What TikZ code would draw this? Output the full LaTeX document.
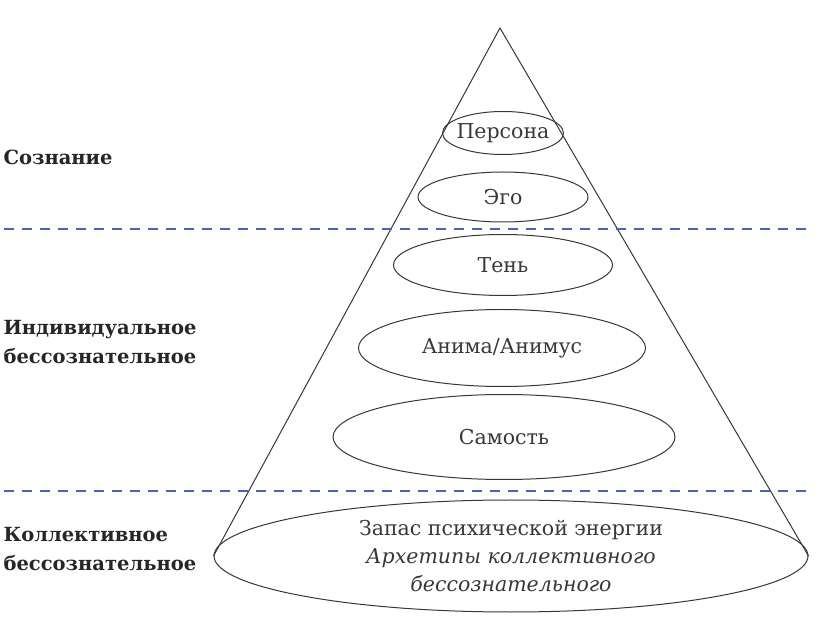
\documentclass[tikz,border=0pt]{standalone}
\usepackage{fontspec}
\setmainfont{DejaVu Serif}
\usetikzlibrary{shapes.geometric}
\definecolor{dashblue}{RGB}{75,100,185}
\definecolor{inkgray}{RGB}{55,55,55}
\tikzset{
  layer/.style={draw=inkgray, line width=1pt, ellipse, inner sep=0pt, text=inkgray, font=\fontsize{20.5}{28}\selectfont},
  layertext/.style={inner sep=0pt, text=inkgray, font=\fontsize{20.5}{28}\selectfont},
  side/.style={anchor=west, align=left, font=\fontsize{19.5}{29}\selectfont\bfseries, text=black!85},
  sep/.style={draw=dashblue, line width=2pt, dash pattern=on 10pt off 8pt},
  cone/.style={draw=inkgray, line width=1pt}
}
\begin{document}
\begin{tikzpicture}[x=1pt,y=-1pt]
\useasboundingbox (0,0) rectangle (823,636);
% bottom ellipse
\node[layer, minimum width=594pt, minimum height=112pt, align=center] (base) at (511,556)
  {Запас психической энергии\\ \textit{Архетипы коллективного}\\ \textit{бессознательного}};
\coordinate (apex) at (500,28);
\draw[cone] (base.west) -- (apex) -- (base.east);
% inner ellipses
\node[layer, minimum width=121pt, minimum height=43pt] (persona) at (503,133) {};
\node[layertext] (personatext) at (persona.center) {Персона};
\node[layer, minimum width=170pt, minimum height=50pt] (ego) at (503,197) {Эго};
\node[layer, minimum width=219pt, minimum height=61pt] (shadow) at (503,265) {Тень};
\node[layer, minimum width=287pt, minimum height=77pt] (anima) at (502,348) {Анима/Анимус};
\node[layer, minimum width=342pt, minimum height=85pt] (self) at (504,437) {Самость};
% dashed separators
\coordinate (s1a) at (4,229); \coordinate (s1b) at (812,229);
\coordinate (s2a) at (4,491); \coordinate (s2b) at (812,491);
\draw[sep] (s1a) -- (s1b);
\draw[sep] (s2a) -- (s2b);
% side labels
\node[side] (l1) at (0,157) {Сознание};
\node[side] (l2) at (0,342) {Индивидуальное\\бессознательное};
\node[side] (l3) at (0,549) {Коллективное\\бессознательное};
\end{tikzpicture}
\end{document}
